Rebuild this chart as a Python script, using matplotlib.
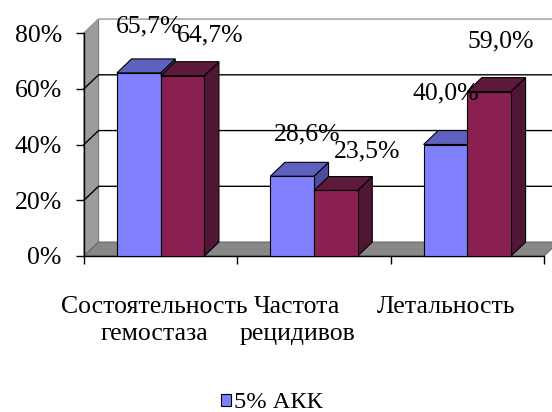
import matplotlib
matplotlib.use("Agg")
import matplotlib.pyplot as plt
from matplotlib.patches import Polygon, Rectangle, Patch

plt.rcParams['font.family'] = ['Liberation Serif', 'DejaVu Serif']

categories = ["Состоятельность\nгемостаза", "Частота\nрецидивов", "Летальность"]
akk_5 = [65.7, 28.6, 40.0]
second = [64.7, 23.5, 59.0]
akk_labels = ["65,7%", "28,6%", "40,0%"]
second_labels = ["64,7%", "23,5%", "59,0%"]
y_ticks = [0, 20, 40, 60, 80]

# styling / placement
blue = ('#8080ff', '#6060c0', '#4c4c9a')      # front, top, side
maroon = ('#8a1f52', '#5e1a3d', '#4f1734')
akk_nudge = [(10, 40), (15, 36), (0, 45)]
second_nudge = [(28, 34), (31, 33), (12, 44)]
cat_nudge = [-6, -17, -21]
bar_w = 0.285
bar_start = 0.215
dx, dy = 0.095, 5.0  # depth in data units
ymax = 80
fs = 18.5

fig = plt.figure(figsize=(5.52, 4.12), dpi=100)
ax = fig.add_axes([84 / 552, 156 / 412, 460 / 552, 223 / 412])
n = len(categories)
ax.set_xlim(0, n)
ax.set_ylim(0, ymax)


def poly(pts, fc, ec='black', lw=0.8, z=1):
    p = Polygon(pts, closed=True, facecolor=fc, edgecolor=ec, linewidth=lw,
                clip_on=False, zorder=z)
    ax.add_patch(p)


# walls and floor
poly([(0, 0), (0, ymax), (dx, ymax + dy), (dx, dy)], '#9c9c9c', ec='#7a7a7a', z=1)
poly([(0, 0), (n, 0), (n + dx, dy), (dx, dy)], '#888888', ec='#666666', z=1)
for v in y_ticks[1:]:
    col = '#999999' if v == ymax else 'black'
    ax.plot([0, dx, n + dx + 0.05], [v, v + dy, v + dy], color=col, lw=1.0,
            clip_on=False, zorder=1.5)


def bar3d(x0, h, colors, z):
    front, top, side = colors
    poly([(x0 + bar_w, 0), (x0 + bar_w + dx, dy), (x0 + bar_w + dx, h + dy),
          (x0 + bar_w, h)], side, z=z)
    poly([(x0, h), (x0 + bar_w, h), (x0 + bar_w + dx, h + dy), (x0 + dx, h + dy)],
         top, z=z)
    ax.add_patch(Rectangle((x0, 0), bar_w, h, facecolor=front, edgecolor='black',
                           linewidth=0.8, clip_on=False, zorder=z))


for i in range(n):
    xb = i + bar_start
    bar3d(xb, akk_5[i], blue, 3)
    bar3d(xb + bar_w, second[i], maroon, 4)
    ax.annotate(akk_labels[i], xy=(xb + bar_w / 2, akk_5[i]), xytext=akk_nudge[i],
                textcoords='offset pixels', ha='center', va='baseline',
                fontsize=fs, annotation_clip=False, zorder=6)
    ax.annotate(second_labels[i], xy=(xb + 1.5 * bar_w, second[i]),
                xytext=second_nudge[i], textcoords='offset pixels', ha='center',
                va='baseline', fontsize=fs, annotation_clip=False, zorder=6)
    ax.annotate(categories[i], xy=(i + 0.5, 0), xycoords=('data', 'axes fraction'),
                xytext=(cat_nudge[i], -40), textcoords='offset pixels', ha='center',
                va='top', fontsize=fs, linespacing=1.32, annotation_clip=False)

for s in ['top', 'right']:
    ax.spines[s].set_visible(False)
for s in ['left', 'bottom']:
    ax.spines[s].set_linewidth(1.0)
    ax.spines[s].set_zorder(2)

ax.set_yticks(y_ticks)
ax.set_yticklabels([f"{v}%" for v in y_ticks])
ax.set_xticks(range(n + 1))
ax.set_xticklabels([])
ax.tick_params(axis='y', length=6, width=1.0, pad=10, labelsize=fs)
ax.tick_params(axis='x', length=6, width=1.0)
ax.patch.set_visible(False)

handle = Patch(facecolor=blue[0], edgecolor='black', linewidth=0.8)
fig.legend([handle], ["5% АКК"], loc='center', bbox_to_anchor=(272 / 552, 9 / 412),
           frameon=False, fontsize=fs * 0.95, handlelength=0.4, handleheight=0.4,
           handletextpad=0.15, borderpad=0)

fig.savefig("out.png", dpi=100)
